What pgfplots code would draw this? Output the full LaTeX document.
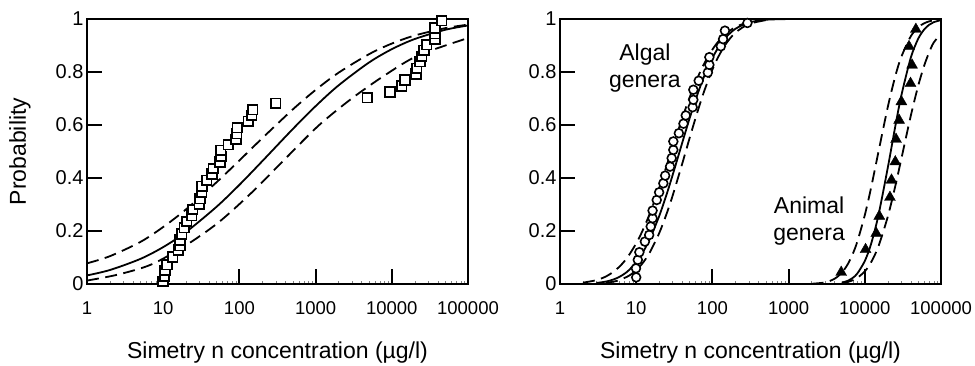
\documentclass[border=0pt]{standalone}
\usepackage{pgfplots}
\pgfplotsset{compat=1.18}
\usepackage{fontspec}
\setmainfont{Liberation Sans}
\newcommand{\lbl}{\fontsize{23bp}{27bp}\selectfont}
\begin{document}
\begin{tikzpicture}
\useasboundingbox (0,0) rectangle (975bp,366bp);
% ---------------- left panel ----------------
\begin{axis}[xmode=log, at={(87bp,82bp)}, anchor=south west,
  scale only axis, width=381bp, height=265bp,
  xmin=1, xmax=100000, ymin=0, ymax=1,
  xtick={1,10,100,1000,10000,100000},
  xticklabels={1,10,100,1000,10000,100000},
  ytick={0,0.2,0.4,0.6,0.8,1},
  yticklabels={0,0.2,0.4,0.6,0.8,1},
  minor x tick num=0,
  tick align=inside, tick pos=left, major tick length=15bp,
  axis line style={line width=2bp},
  major tick style={line width=2bp, black},
  xticklabel style={font=\fontsize{18.5bp}{20bp}\selectfont, yshift=-14bp},
  yticklabel style={font=\fontsize{20bp}{22bp}\selectfont},
  xlabel={\lbl Simetry n concentration (µg/l)},
  xlabel style={at={(axis description cs:0.5,-0.257)}, anchor=center},
  ylabel={\lbl Probability},
  ylabel style={at={(axis description cs:-0.176,0.5)}, anchor=center}]
\addplot[black, line width=1.8bp, smooth, no marks] coordinates {(1,0.0324)(2,0.0528)(5,0.0945)(10,0.1392)(20,0.1965)(50,0.2911)(100,0.3742)(200,0.4638)(500,0.5843)(1000,0.6711)(2000,0.7495)(5000,0.8355)(10000,0.8861)(20000,0.9245)(50000,0.9591)(100000,0.9755)};
\addplot[black, line width=1.8bp, dash pattern=on 12bp off 6.5bp, smooth, no marks] coordinates {(1,0.0780)(2,0.1050)(5,0.1584)(10,0.2151)(20,0.2820)(50,0.3836)(100,0.4663)(200,0.5505)(500,0.6583)(1000,0.7323)(2000,0.7973)(5000,0.8669)(10000,0.9073)(20000,0.9377)(50000,0.9653)(100000,0.9787)};
\addplot[black, line width=1.8bp, dash pattern=on 12bp off 6.5bp, smooth, no marks] coordinates {(1,0.013)(2.5,0.035)(6.9,0.073)(19.1,0.143)(52.5,0.231)(145,0.345)(398,0.472)(1096,0.598)(2951,0.699)(8128,0.788)(22387,0.863)(100000,0.928)};
\addplot[only marks, mark=square*, mark size=4.8bp, mark options={fill=white, draw=black, line width=1.7bp}] table {
x y
9.9 0.010
10.4 0.030
10.6 0.052
11.2 0.073
13.3 0.102
15.8 0.128
16.6 0.145
16.6 0.166
17.5 0.189
18.9 0.212
20.3 0.236
23.6 0.258
24.4 0.281
29.8 0.302
30.4 0.322
32.0 0.346
32.3 0.369
37.2 0.391
43.7 0.415
45.5 0.436
55.6 0.460
57.4 0.481
56.9 0.504
71.5 0.526
90.2 0.546
92.2 0.567
93.8 0.590
131 0.614
145 0.637
150 0.658
299 0.682
4770 0.703
9460 0.725
13500 0.747
14900 0.770
20800 0.792
21200 0.814
23400 0.839
24700 0.859
26500 0.882
28700 0.903
36900 0.923
36900 0.945
36900 0.966
45200 0.994
};
\end{axis}
% ---------------- right panel ----------------
\begin{axis}[xmode=log, at={(560bp,82bp)}, anchor=south west,
  scale only axis, width=381bp, height=265bp,
  xmin=1, xmax=100000, ymin=0, ymax=1,
  xtick={1,10,100,1000,10000,100000},
  xticklabels={1,10,100,1000,10000,100000},
  ytick={0,0.2,0.4,0.6,0.8,1},
  yticklabels={0,0.2,0.4,0.6,0.8,1},
  minor x tick num=0,
  tick align=inside, tick pos=left, major tick length=15bp,
  axis line style={line width=2bp},
  major tick style={line width=2bp, black},
  xticklabel style={font=\fontsize{18.5bp}{20bp}\selectfont, yshift=-14bp},
  yticklabel style={font=\fontsize{20bp}{22bp}\selectfont},
  xlabel={\lbl Simetry n concentration (µg/l)},
  xlabel style={at={(axis description cs:0.5,-0.257)}, anchor=center}]
% algal
\addplot[black, line width=1.8bp, smooth, no marks] coordinates {(3,0.0038)(4,0.0091)(5,0.0168)(6,0.0267)(7,0.0385)(8,0.0519)(10,0.0823)(12,0.1155)(15,0.1683)(20,0.2559)(25,0.3372)(30,0.4102)(40,0.5311)(50,0.6236)(60,0.6939)(70,0.7489)(80,0.7916)(100,0.8529)(120,0.8927)(150,0.9303)(200,0.9627)(300,0.9865)(500,0.9971)(1000,0.9998)};
\addplot[black, line width=1.8bp, dash pattern=on 12bp off 6.5bp, smooth, no marks] coordinates {(2,0.0050)(3,0.0145)(4,0.0283)(5,0.0454)(6,0.0648)(7,0.0858)(8,0.1079)(10,0.1534)(12,0.1985)(15,0.2640)(20,0.3620)(25,0.4451)(30,0.5152)(40,0.6240)(50,0.7023)(60,0.7602)(70,0.8040)(80,0.8375)(100,0.8849)(120,0.9156)(150,0.9442)(200,0.9692)(300,0.9881)(500,0.9970)};
\addplot[black, line width=1.8bp, dash pattern=on 12bp off 6.5bp, smooth, no marks] coordinates {(4,0.0044)(5,0.0087)(6,0.0146)(8,0.0309)(10,0.0521)(12,0.0767)(15,0.1180)(20,0.1914)(25,0.2643)(30,0.3325)(40,0.4522)(50,0.5489)(60,0.6255)(70,0.6872)(80,0.7366)(100,0.8092)(120,0.8583)(150,0.9057)(200,0.9482)(300,0.9807)(500,0.9956)};
% animal
\addplot[black, line width=1.8bp, smooth, no marks] coordinates {(5000,0.0052)(6000,0.0123)(7000,0.0239)(8000,0.0402)(10000,0.0869)(12000,0.1482)(15000,0.2559)(20000,0.4380)(25000,0.5917)(30000,0.7082)(40000,0.8527)(50000,0.9245)(60000,0.9601)(70000,0.9783)(80000,0.9878)(100000,0.9959)};
\addplot[black, line width=1.8bp, dash pattern=on 12bp off 6.5bp, smooth, no marks] coordinates {(2000,0.0008)(3000,0.0060)(4000,0.0195)(5000,0.0429)(6000,0.0755)(7000,0.1158)(8000,0.1613)(10000,0.2601)(12000,0.3591)(15000,0.4944)(20000,0.6671)(25000,0.7820)(30000,0.8556)(40000,0.9341)(50000,0.9681)(60000,0.9837)(70000,0.9912)(80000,0.9951)(100000,0.9983)};
\addplot[black, line width=1.8bp, dash pattern=on 12bp off 6.5bp, smooth, no marks] coordinates {(5000,0.0038)(6000,0.0080)(7000,0.0145)(8000,0.0233)(10000,0.0478)(12000,0.0803)(15000,0.1400)(20000,0.2537)(25000,0.3669)(30000,0.4693)(40000,0.6331)(50000,0.7463)(60000,0.8230)(70000,0.8749)(80000,0.9104)(100000,0.9450)};
\addplot[only marks, mark=*, mark size=4.4bp, mark options={fill=white, draw=black, line width=1.6bp}] table {
x y
10.0 0.025
9.93 0.059
10.5 0.091
11.0 0.120
13.0 0.160
14.8 0.185
15.5 0.217
16.4 0.248
16.4 0.277
18.6 0.317
20.0 0.346
22.7 0.380
24.0 0.409
27.8 0.443
29.2 0.475
30.7 0.506
30.7 0.538
36.3 0.569
41.7 0.605
44.7 0.636
55.0 0.667
56.2 0.695
56.2 0.733
66.1 0.767
87.1 0.798
91.2 0.827
91.2 0.856
129 0.897
138 0.924
146 0.956
288 0.985
};
\addplot[only marks, mark=triangle*, mark size=6.3bp, mark options={fill=black, draw=black}] table {
x y
4900 0.044
10230 0.130
14130 0.191
15490 0.256
21380 0.327
22390 0.392
25120 0.461
25700 0.546
28180 0.618
30200 0.688
39810 0.757
41690 0.826
38020 0.896
46770 0.961
};
\node[align=center, font=\lbl] at (axis cs:13,0.815) {Algal\\genera};
\node[align=center, font=\lbl] at (axis cs:1860,0.237) {Animal\\genera};
\end{axis}
\end{tikzpicture}
\end{document}
